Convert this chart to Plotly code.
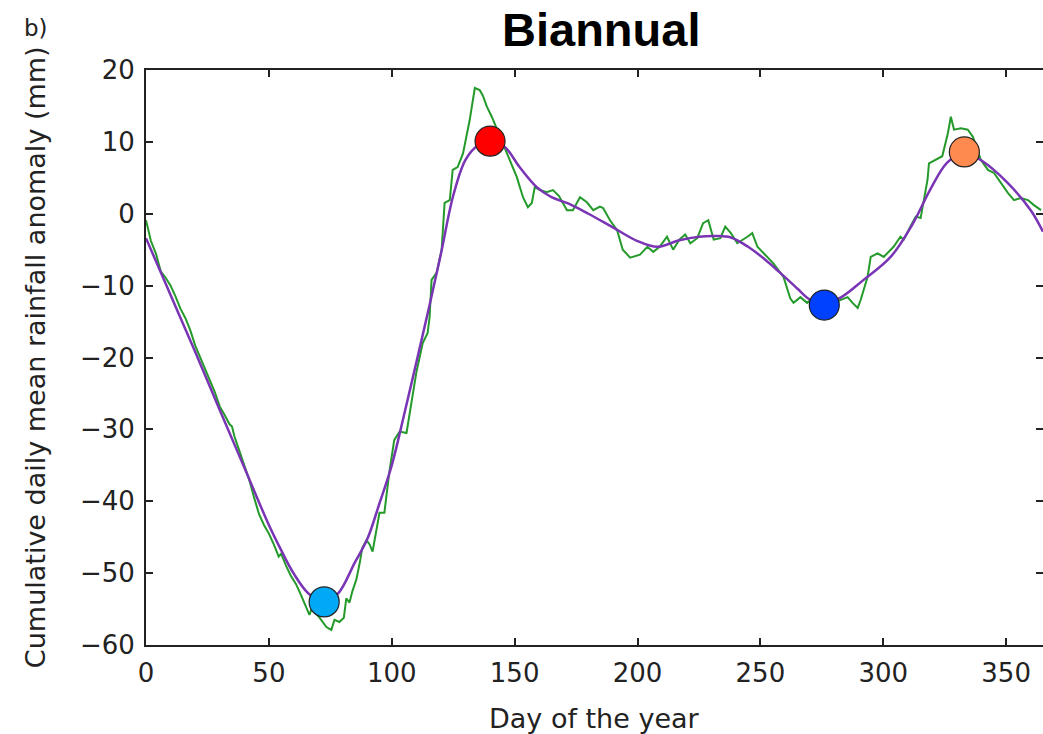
import plotly.graph_objects as go

# smooth (fitted) curve
fit_day = [0, 10, 20, 30, 40, 50, 55, 60, 66, 72, 78, 85, 90, 95, 100, 105, 110,
           115, 120, 125, 130, 135, 140, 146, 152, 159, 165, 172, 180, 190, 200,
           208, 217, 225, 232, 238, 245, 252, 258, 265, 270, 276, 283, 292, 303,
           312, 319, 326, 333, 340, 350, 360, 365]
fit_val = [-3.4, -11.3, -19.2, -27.3, -35.3, -43.3, -46.8, -50.0, -52.8, -54.0,
           -52.9, -48.5, -45.3, -40.3, -35.0, -28.0, -20.7, -13.3, -5.6, 2.5, 7.5,
           9.5, 10.1, 9.3, 6.5, 3.7, 2.3, 1.4, 0.0, -1.9, -3.8, -4.6, -3.7, -3.2,
           -3.1, -3.3, -4.6, -6.4, -8.2, -10.4, -11.9, -12.6, -11.6, -9.2, -6.0,
           -1.4, 3.3, 7.1, 8.6, 7.4, 4.5, 0.5, -2.5]

# raw cumulative daily anomaly
raw_day = [0, 2, 4, 6, 8, 10, 12, 14, 16, 18, 20, 22, 24, 26, 28, 30, 32, 34, 35,
           36, 38, 40, 42, 44, 46, 48, 50, 52, 53, 54, 55, 57, 59, 61, 63, 65,
           66.5, 67.7, 69, 70.6, 72, 73.4, 75.4, 76.7, 78.7, 80.5, 81.5, 82.8, 84,
           85.6, 87, 88, 89.7, 91, 92.2, 93.5, 95, 97, 98.3, 99, 101, 103.2, 106,
           108, 110, 112.6, 114.6, 115.4, 116.2, 118.3, 120.3, 121.5, 123.6,
           124.8, 126.8, 129, 131.7, 133.8, 135.8, 137, 138.7, 140.7, 144, 146.8,
           150.9, 153.4, 155.4, 157, 158.2, 160.3, 163, 165.6, 168, 171.3, 173.7,
           176.6, 179.4, 182, 184.7, 186, 188.8, 191.7, 194, 197, 201, 204, 206.4,
           209, 212, 214.5, 217, 219.4, 221.5, 224.3, 226.7, 228.8, 231, 233.7,
           235.7, 238, 240.6, 244.7, 246.7, 248.8, 251.3, 255.3, 259.4, 262.2,
           263.5, 266.3, 269, 270.4, 273, 276, 279, 282.6, 285.5, 287.5, 289.6,
           290.8, 293.6, 294.9, 297.7, 300.2, 302.2, 304.2, 307, 308.3, 311,
           313.2, 315.2, 316.5, 318, 318.6, 321.4, 324, 326.3, 327.5, 328.8,
           331.6, 334.4, 336.5, 339.7, 342.6, 345, 347.9, 350.7, 353.2, 356,
           358.9, 361.3, 364.2]
raw_val = [-0.9, -3.8, -5.5, -8.0, -8.9, -10.0, -11.5, -13.2, -14.5, -16.2, -18.3,
           -20.0, -21.6, -23.2, -24.8, -26.8, -28.0, -29.3, -29.6, -31.0, -33.0,
           -35.0, -37.0, -39.5, -41.8, -43.3, -44.5, -46.0, -46.8, -47.7, -47.3,
           -49.0, -50.4, -51.5, -53.0, -54.5, -55.8, -54.7, -55.5, -56.2, -56.8,
           -57.5, -57.9, -56.5, -56.8, -56.2, -53.5, -54.1, -52.5, -50.9, -48.5,
           -46.5, -45.4, -46.0, -47.0, -44.5, -41.6, -41.6, -37.5, -36.0, -31.5,
           -30.3, -30.5, -26.3, -22.1, -18.0, -16.6, -14.4, -9.2, -8.2, -5.0, 1.5,
           1.9, 6.1, 6.5, 8.4, 13.0, 17.5, 17.2, 16.5, 14.9, 13.5, 10.7, 8.4, 5.1,
           2.3, 0.9, 1.5, 3.7, 3.3, 3.0, 3.3, 2.5, 0.5, 0.5, 2.3, 1.6, 0.5, 1.0,
           0.8, -0.9, -2.3, -5.0, -6.1, -5.7, -4.6, -5.3, -4.6, -3.2, -5.0, -3.6,
           -2.9, -4.1, -3.4, -1.3, -0.9, -3.6, -3.4, -1.8, -2.7, -4.1, -3.2, -2.7,
           -4.6, -5.5, -6.9, -8.8, -11.8, -12.4, -11.6, -12.4, -12.0, -12.6, -13.0,
           -12.5, -12.0, -11.6, -12.4, -13.1, -12.0, -8.8, -6.0, -5.5, -6.0, -5.3,
           -4.6, -3.2, -3.6, -1.8, -0.4, -0.6, 1.9, 4.7, 7.0, 7.5, 8.0, 11.2, 13.5,
           11.7, 11.9, 11.7, 10.7, 7.5, 6.1, 5.7, 4.3, 2.9, 1.9, 2.2, 1.9, 1.2, 0.5]

# turning points
pt_day = [72.5, 140, 276, 333]
pt_val = [-54.0, 10.1, -12.7, 8.6]
pt_col = ["#00a8f5", "#ff0000", "#0040ff", "#ff8a50"]

fig = go.Figure()
fig.add_trace(go.Scatter(x=raw_day, y=raw_val, mode="lines",
                         line=dict(color="#239a2a", width=2), hoverinfo="skip"))
fig.add_trace(go.Scatter(x=fit_day, y=fit_val, mode="lines",
                         line=dict(color="#7a35b5", width=2.5, shape="spline"),
                         hoverinfo="skip"))
fig.add_trace(go.Scatter(x=pt_day, y=pt_val, mode="markers",
                         marker=dict(size=30, color=pt_col,
                                     line=dict(color="#222", width=1.2))))

axis_style = dict(showgrid=False, zeroline=False, showline=True, linecolor="#222",
                  linewidth=2, mirror="ticks", ticks="inside", ticklen=7,
                  tickwidth=1.5, tickcolor="#222", ticklabelstandoff=4,
                  tickfont=dict(family="DejaVu Sans", size=26, color="#222"))

# the plot runs a little past the right edge of the window, as in the original
fig.update_layout(
    width=1050, height=734,
    margin=dict(l=146, r=5, t=70, b=89),
    paper_bgcolor="white", plot_bgcolor="white",
    showlegend=False,
    xaxis=dict(range=[0, 365], tickvals=[0, 50, 100, 150, 200, 250, 300, 350],
               **axis_style),
    yaxis=dict(range=[-60, 20], tickvals=[-60, -50, -40, -30, -20, -10, 0, 10, 20],
               ticktext=["\u221260", "\u221250", "\u221240", "\u221230", "\u221220",
                         "\u221210", "0", "10", "20"],
               **axis_style),
    annotations=[
        dict(text="<b>Biannual</b>", x=0.507, y=1.071, xref="paper", yref="paper",
             xanchor="center", yanchor="middle", showarrow=False,
             font=dict(family="Liberation Sans", size=47, color="black")),
        dict(text="b)", x=-0.123, y=1.073, xref="paper", yref="paper",
             xanchor="center", yanchor="middle", showarrow=False,
             font=dict(family="DejaVu Sans", size=23, color="#222")),
        dict(text="Cumulative daily mean rainfall anomaly (mm)", textangle=-90,
             x=-0.1224, y=0.501, xref="paper", yref="paper",
             xanchor="center", yanchor="middle", showarrow=False,
             font=dict(family="DejaVu Sans", size=27, color="#222")),
        dict(text="Day of the year", x=0.4995, y=-0.127, xref="paper", yref="paper",
             xanchor="center", yanchor="middle", showarrow=False,
             font=dict(family="DejaVu Sans", size=27, color="#222")),
    ],
)

fig.write_html("out.html", config={"displayModeBar": False},
               post_script="document.body.style.margin='0px';"
                           "document.body.style.overflow='hidden';")
